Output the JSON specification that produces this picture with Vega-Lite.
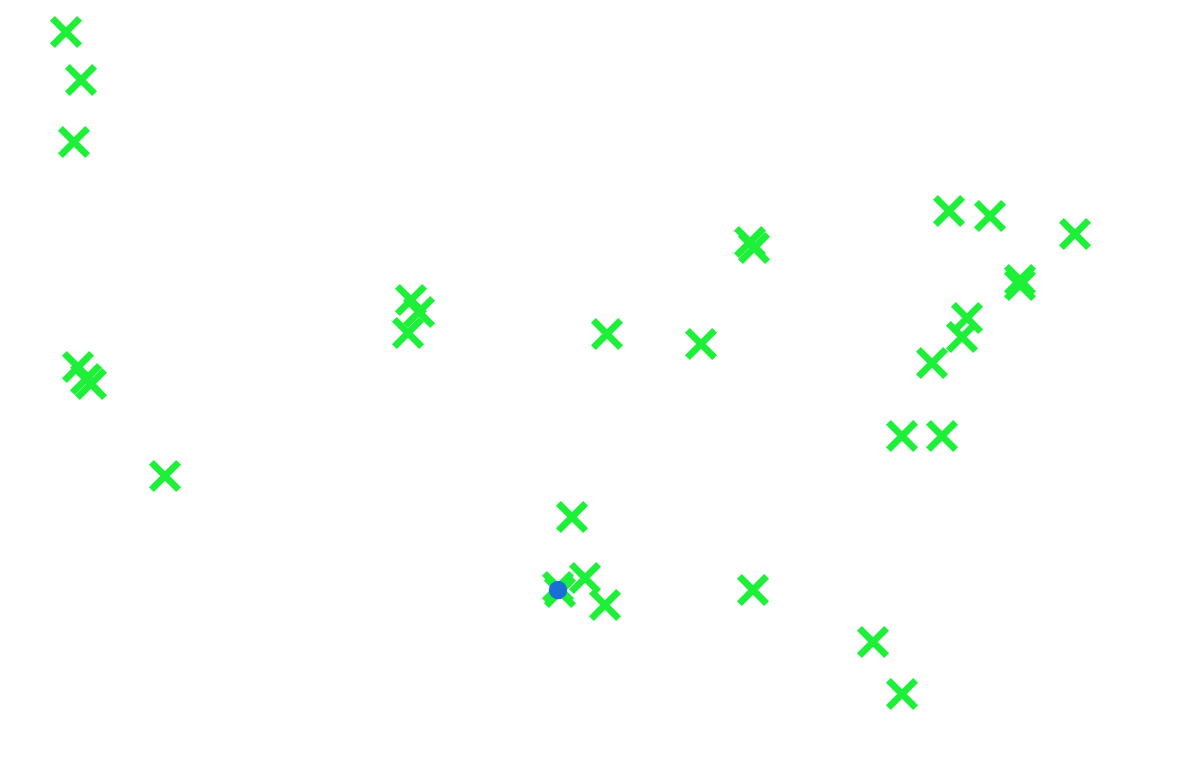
{
  "$schema": "https://vega.github.io/schema/vega-lite/v6.json",
  "width": 1184,
  "height": 784,
  "autosize": {"type": "fit", "contains": "padding"},
  "padding": 0,
  "background": "white",
  "config": {"view": {"stroke": null}},
  "datasets": {
    "crosses": [
      {"x": 66, "y": 752},
      {"x": 81, "y": 704},
      {"x": 74, "y": 642},
      {"x": 78, "y": 417},
      {"x": 86, "y": 405},
      {"x": 91, "y": 400},
      {"x": 165, "y": 308},
      {"x": 411, "y": 484},
      {"x": 419, "y": 472},
      {"x": 408, "y": 451},
      {"x": 607, "y": 450},
      {"x": 701, "y": 440},
      {"x": 750, "y": 542},
      {"x": 754, "y": 536},
      {"x": 949, "y": 573},
      {"x": 990, "y": 568},
      {"x": 1075, "y": 550},
      {"x": 1020, "y": 504},
      {"x": 1020, "y": 499},
      {"x": 967, "y": 466},
      {"x": 962, "y": 447},
      {"x": 932, "y": 421},
      {"x": 902, "y": 348},
      {"x": 942, "y": 348},
      {"x": 572, "y": 267},
      {"x": 558, "y": 197},
      {"x": 560, "y": 192},
      {"x": 585, "y": 206},
      {"x": 605, "y": 179},
      {"x": 753, "y": 194},
      {"x": 873, "y": 142},
      {"x": 902, "y": 90}
    ],
    "dots": [
      {"x": 558, "y": 194}
    ]
  },
  "layer": [
    {
      "data": {"name": "crosses"},
      "mark": {
        "type": "point",
        "shape": "M -1 -1 L 1 1 M -1 1 L 1 -1",
        "filled": false,
        "size": 740,
        "strokeWidth": 7,
        "color": "#1ef03a",
        "opacity": 1
      },
      "encoding": {
        "x": {"field": "x", "type": "quantitative", "scale": {"domain": [0, 1184], "nice": false, "zero": false}, "axis": null},
        "y": {"field": "y", "type": "quantitative", "scale": {"domain": [0, 784], "nice": false, "zero": false}, "axis": null}
      }
    },
    {
      "data": {"name": "dots"},
      "mark": {"type": "circle", "size": 340, "color": "#1a6fd6", "opacity": 1},
      "encoding": {
        "x": {"field": "x", "type": "quantitative", "scale": {"domain": [0, 1184], "nice": false, "zero": false}, "axis": null},
        "y": {"field": "y", "type": "quantitative", "scale": {"domain": [0, 784], "nice": false, "zero": false}, "axis": null}
      }
    }
  ]
}
